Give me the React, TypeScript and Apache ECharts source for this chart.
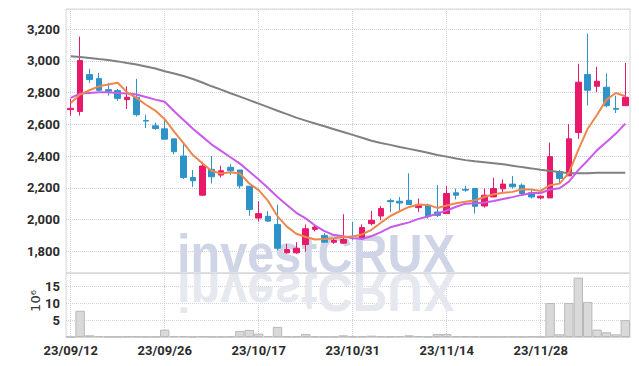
import { useEffect, useRef } from 'react';
import * as echarts from 'echarts';

const dates = [
  '23/09/12','23/09/13','23/09/14','23/09/15','23/09/18','23/09/19','23/09/20','23/09/21','23/09/22','23/09/25',
  '23/09/26','23/09/27','23/10/04','23/10/05','23/10/06','23/10/10','23/10/11','23/10/12','23/10/13','23/10/16',
  '23/10/17','23/10/18','23/10/19','23/10/20','23/10/23','23/10/24','23/10/25','23/10/26','23/10/27','23/10/30',
  '23/10/31','23/11/01','23/11/02','23/11/03','23/11/06','23/11/07','23/11/08','23/11/09','23/11/10','23/11/13',
  '23/11/14','23/11/15','23/11/16','23/11/17','23/11/20','23/11/21','23/11/22','23/11/23','23/11/24','23/11/27',
  '23/11/28','23/11/29','23/11/30','23/12/01','23/12/04','23/12/05','23/12/06','23/12/07','23/12/08','23/12/11',
];

const opens = [2692,2681,2913,2888,2818,2812,2755,2770,2624,2590, 2571,2508,2400,2265,2153,2316,2280,2329,2312,2210, 2009,2020,1969,1790,1790,1843,1938,1900,1857,1851, 1894,1879,1974,2022,2119,2115,2121,2075,2090,2047, 2037,2168,2190,2195,2085,2142,2193,2223,2216,2168, 2136,2136,2301,2275,2548,2913,2839,2833,2700,2717];
const closes = [2700,3002,2882,2814,2808,2763,2770,2660,2620,2573, 2506,2427,2265,2244,2337,2269,2307,2307,2212,2063, 2037,1990,1819,1811,1819,1942,1952,1857,1868,1874, 1892,1949,1995,2069,2112,2104,2094,2090,2020,2026, 2164,2153,2185,2083,2153,2195,2223,2206,2164,2142, 2147,2396,2259,2508,2865,2814,2871,2717,2694,2770];
const lows = [2654,2655,2861,2807,2780,2747,2696,2649,2576,2565, 2506,2411,2255,2206,2147,2227,2265,2280,2195,2022, 1988,1984,1805,1784,1784,1798,1925,1857,1847,1847, 1868,1872,1963,1995,2047,2047,2094,2047,2005,2016, 2037,2126,2174,2037,2075,2142,2170,2195,2153,2132, 2128,2136,2227,2275,2508,2719,2804,2706,2671,2717];
const highs = [2761,3152,2949,2924,2861,2823,2839,2886,2660,2611, 2637,2508,2481,2312,2364,2400,2339,2349,2312,2210, 2115,2052,2094,1847,1857,1969,1969,1914,1879,2033, 1984,1969,2054,2085,2132,2142,2291,2132,2100,2216, 2210,2195,2212,2195,2195,2263,2253,2274,2227,2189, 2153,2484,2312,2601,2981,3171,2962,2920,2780,2987];

const ma5 = [2734,2787,2814,2839,2850,2861,2801,2766,2723,2686, 2632,2554,2481,2406,2354,2305,2290,2297,2290,2227, 2185,2117,2020,1955,1910,1890,1874,1877,1882,1890, 1893,1906,1935,1980,2022,2052,2079,2094,2092,2073, 2088,2102,2112,2121,2142,2159,2168,2174,2191,2189, 2180,2216,2226,2294,2438,2572,2660,2755,2797,2776];
const ma10 = [2766,2793,2797,2801,2801,2797,2793,2787,2772,2755, 2742,2682,2627,2572,2522,2472,2432,2392,2352,2302, 2252,2199,2142,2092,2042,2007,1962,1927,1902,1894, 1882,1878,1895,1921,1951,1967,1982,2004,2019,2037, 2057,2080,2100,2103,2107,2116,2129,2141,2155,2167, 2167,2189,2197,2239,2311,2372,2437,2488,2541,2604];
const maLong = [3029,3024,3018,3011,3005,2996,2986,2977,2964,2951, 2934,2920,2904,2885,2863,2839,2818,2795,2774,2752, 2730,2708,2685,2664,2642,2623,2605,2587,2569,2551, 2533,2515,2496,2482,2470,2457,2445,2433,2420,2406, 2396,2384,2374,2367,2361,2355,2348,2339,2330,2322, 2313,2305,2299,2292,2292,2292,2294,2294,2294,2294];

// volume, in millions (10^6)
const volumes = [0.05,7.8,0.5,0.3,0.1,0.1,0.2,0.2,0.1,0.1, 2.2,0.3,0.3,0.1,0.3,0.1,0.1,0.2,1.8,2.1, 1.0,0.3,3.0,0.2,0.2,0.9,0.2,0.1,0.1,0.5, 0.2,0.2,0.4,0.2,0.2,0.3,0.5,0.3,0.1,0.9, 0.9,0.2,0.2,0.2,0.1,0.1,0.1,0.2,0.1,0.2, 0.1,10.1,0.8,10.1,17.6,10.4,2.2,1.4,0.8,5.0];

const labelFont = "Roboto, 'Liberation Sans', sans-serif";

export default function App() {
  const ref = useRef<HTMLDivElement>(null);
  useEffect(() => {
    if (!ref.current) return;
    const chart = echarts.init(ref.current, null, { renderer: 'svg' });
    const candleData = dates.map((_, i) => [opens[i], closes[i], lows[i], highs[i]]);
    const dotted = { color: '#cfd2de', type: 'dotted' as const, width: 1 };
    const axisText = { fontFamily: labelFont, fontSize: 13, fontWeight: 'bold' as const, color: '#2b2b2b' };
    chart.setOption({
      animation: false,
      backgroundColor: '#fff',
      grid: [
        { left: 66, top: 9, right: 9, height: 264, show: true, borderColor: '#d6d6d6', borderWidth: 1 },
        { left: 66, top: 273, right: 9, height: 64, show: true, borderColor: '#d6d6d6', borderWidth: 1 },
      ],
      xAxis: [
        {
          type: 'category', gridIndex: 0, data: dates, boundaryGap: true,
          axisLine: { show: false }, axisTick: { show: false }, axisLabel: { show: false },
          splitLine: { show: true, interval: 9, alignWithLabel: true, lineStyle: dotted },
        },
        {
          type: 'category', gridIndex: 1, data: dates, boundaryGap: true,
          axisLine: { show: true, lineStyle: { color: '#d6d6d6' } },
          axisTick: { show: false, alignWithLabel: true, interval: 9 },
          axisLabel: { interval: 9, margin: 7, ...axisText },
          splitLine: { show: true, interval: 9, alignWithLabel: true, lineStyle: dotted },
        },
      ],
      yAxis: [
        {
          type: 'value', gridIndex: 0, min: 1663, max: 3326, splitNumber: 8,
          axisLine: { show: false }, axisTick: { show: false },
          axisLabel: {
            margin: 6, ...axisText,
            formatter: (v: number) => (Math.abs(v % 200) < 1e-6 ? v.toLocaleString('en-US') : ''),
          },
          splitLine: { show: true, lineStyle: dotted },
        },
        {
          type: 'value', gridIndex: 1, min: 0, max: 19, interval: 5,
          axisLine: { show: false }, axisTick: { show: false },
          axisLabel: {
            margin: 6, ...axisText,
            formatter: (v: number) => (v > 0 && v % 5 === 0 ? String(v) : ''),
          },
          splitLine: { show: true, lineStyle: dotted },
        },
      ],
      graphic: [
        {
          type: 'text', z: 1, x: 177, y: 253, scaleX: 0.9,
          style: {
            text: 'investCRUX', font: "bold 54px 'Liberation Sans', Arial, sans-serif",
            fill: '#cfd4e6', verticalAlign: 'middle', textVerticalAlign: 'middle',
          },
        },
        {
          type: 'text', z: 1, x: 177, y: 274, scaleX: 0.9, scaleY: -1,
          style: {
            text: 'investCRUX', y: -19, font: "bold 54px 'Liberation Sans', Arial, sans-serif",
            fill: '#e6e8ef', verticalAlign: 'middle', textVerticalAlign: 'middle',
          },
        },
        {
          type: 'text', z: 5, x: 35, y: 301, rotation: Math.PI / 2,
          style: {
            text: '10⁶', font: "13px 'DejaVu Sans', sans-serif", fill: '#333',
            align: 'center', textAlign: 'center', verticalAlign: 'middle', textVerticalAlign: 'middle',
          },
        },
      ],
      series: [
        {
          type: 'candlestick', xAxisIndex: 0, yAxisIndex: 0, data: candleData, barWidth: 6, z: 2,
          itemStyle: { color: '#e8196a', color0: '#2e93c8', borderColor: '#e8196a', borderColor0: '#2e93c8', borderWidth: 1 },
        },
        { type: 'line', xAxisIndex: 0, yAxisIndex: 0, data: maLong, symbol: 'none', z: 3, lineStyle: { color: '#808080', width: 2 } },
        { type: 'line', xAxisIndex: 0, yAxisIndex: 0, data: ma10, symbol: 'none', z: 3, lineStyle: { color: '#c95ae9', width: 2 } },
        { type: 'line', xAxisIndex: 0, yAxisIndex: 0, data: ma5, symbol: 'none', z: 3, lineStyle: { color: '#ef874d', width: 2 } },
        {
          type: 'bar', xAxisIndex: 1, yAxisIndex: 1, data: volumes, barCategoryGap: '0%', z: 2,
          itemStyle: { color: '#d9d9d9', borderColor: '#b9b9b9', borderWidth: 1 },
        },
      ],
    });
    return () => chart.dispose();
  }, []);
  return <div ref={ref} style={{ position: 'fixed', left: 0, top: 0, width: 639, height: 366, background: '#fff' }} />;
}
